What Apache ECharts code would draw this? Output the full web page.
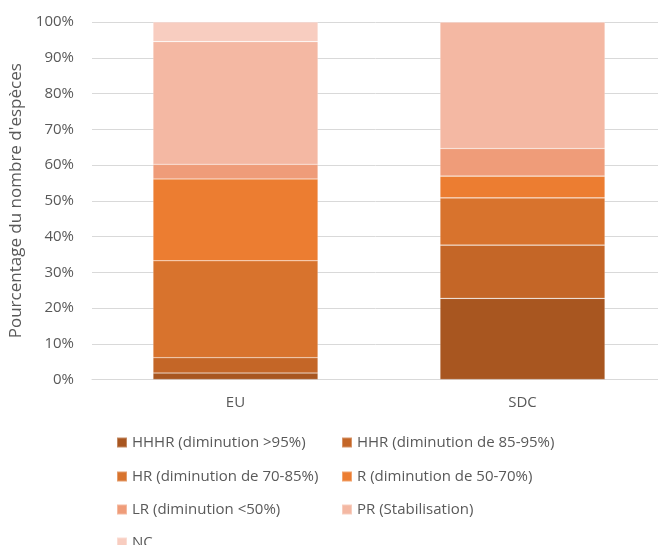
<!DOCTYPE html>
<html>
<head>
<meta charset="utf-8">
<script src="https://cdn.jsdelivr.net/npm/echarts@6/dist/echarts.min.js"></script>
<style>
html,body{margin:0;padding:0;background:#fff;}
#c{width:658px;height:545px;}
</style>
</head>
<body>
<div id="c"></div>
<script>
var categories = ['EU', 'SDC'];
var seriesNames = ['HHHR (diminution >95%)', 'HHR (diminution de 85-95%)', 'HR (diminution de 70-85%)', 'R (diminution de 50-70%)', 'LR (diminution <50%)', 'PR (Stabilisation)', 'NC'];
var hhhr = [1.8, 22.7];
var hhr = [4.3, 14.9];
var hr = [27.1, 13.2];
var r = [22.9, 6.1];
var lr = [4.1, 7.7];
var pr = [34.3, 35.4];
var nc = [5.5, 0];
var yTicks = ['0%', '10%', '20%', '30%', '40%', '50%', '60%', '70%', '80%', '90%', '100%'];

var values = [hhhr, hhr, hr, r, lr, pr, nc];
var colors = ['#A85620', '#C46627', '#D8732D', '#EC7D31', '#EF9C79', '#F4B8A3', '#F8CDC0'];
var font = 'Open Sans';
var txt = '#595959';

var series = seriesNames.map(function (n, i) {
  return {
    name: n, type: 'bar', stack: 'total', barWidth: 165,
    itemStyle: { color: colors[i], borderColor: 'rgba(255,255,255,0.3)', borderWidth: 0.6 },
    emphasis: { disabled: true },
    data: values[i]
  };
});

var legendPos = [
  [116, 435], [341, 435],
  [116, 469], [341, 469],
  [116, 502], [341, 502],
  [116, 535]
];
var legends = seriesNames.map(function (n, i) {
  return {
    data: [n], left: legendPos[i][0], top: legendPos[i][1],
    itemWidth: 10, itemHeight: 10, itemGap: 5, padding: 0,
    icon: 'rect', selectedMode: false,
    textStyle: { fontFamily: font, fontSize: 15, color: txt }
  };
});

var chart = echarts.init(document.getElementById('c'));
chart.setOption({
  animation: false,
  color: colors,
  grid: { left: 92, top: 22, width: 574, height: 357.5, containLabel: false, outerBoundsMode: 'none' },
  legend: legends,
  xAxis: {
    type: 'category', data: categories,
    axisLine: { lineStyle: { color: '#D9D9D9', width: 1 } },
    axisTick: { show: false },
    axisLabel: { fontFamily: font, fontSize: 15, color: txt, margin: 16 }
  },
  yAxis: {
    type: 'value', min: 0, max: 100, interval: 10,
    name: "Pourcentage du nombre d'espèces",
    nameLocation: 'middle', nameGap: 62,
    nameTextStyle: { fontFamily: font, fontSize: 17, color: txt },
    axisLine: { show: false }, axisTick: { show: false },
    splitLine: { lineStyle: { color: '#D9D9D9', width: 1 } },
    axisLabel: {
      fontFamily: font, fontSize: 15, color: txt, margin: 18,
      formatter: function (v) { return yTicks[Math.round(v / 10)]; }
    }
  },
  series: series
});
</script>
</body>
</html>
